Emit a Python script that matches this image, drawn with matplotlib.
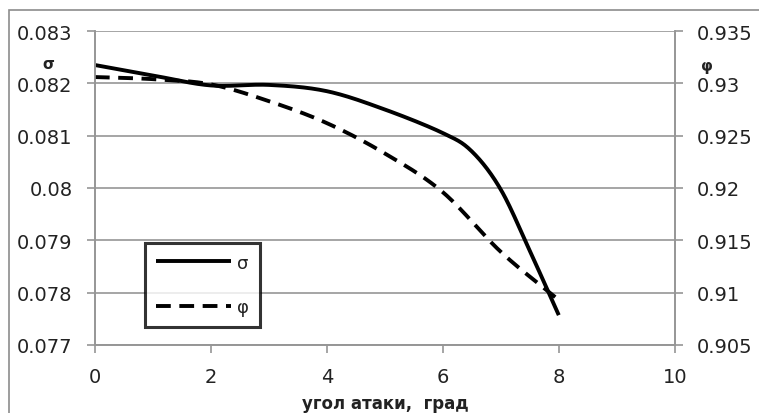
import numpy as np
import matplotlib
matplotlib.use('Agg')
import matplotlib.pyplot as plt
from matplotlib.patches import Rectangle
from matplotlib.ticker import FuncFormatter

# data
sigma_angle = [0, 1, 2, 3, 4, 5, 6, 6.5, 7, 7.5, 8]
sigma = [0.08235, 0.08215, 0.08196, 0.08197, 0.08185, 0.08150, 0.08105, 0.08070, 0.07997, 0.07880, 0.07757]
phi_angle = [0, 1, 2, 3, 4, 5, 6, 7, 8]
phi = [0.9306, 0.9304, 0.9299, 0.9283, 0.9262, 0.9233, 0.9196, 0.9139, 0.9093]

x_ticks = [0, 2, 4, 6, 8, 10]
sigma_ticks = [0.077, 0.078, 0.079, 0.08, 0.081, 0.082, 0.083]
phi_ticks = [0.905, 0.91, 0.915, 0.92, 0.925, 0.93, 0.935]


def smooth(x, y, n=30):
    # catmull-rom curve through the points, like excel's smoothed line
    x = np.asarray(x, float)
    y = np.asarray(y, float)
    px = np.concatenate([[2 * x[0] - x[1]], x, [2 * x[-1] - x[-2]]])
    py = np.concatenate([[2 * y[0] - y[1]], y, [2 * y[-1] - y[-2]]])
    t = np.linspace(0, 1, n, endpoint=False)
    xs, ys = [], []
    for i in range(1, len(px) - 2):
        for p, out in ((px, xs), (py, ys)):
            p0, p1, p2, p3 = p[i - 1], p[i], p[i + 1], p[i + 2]
            out.extend(0.5 * (2 * p1 + (-p0 + p2) * t
                              + (2 * p0 - 5 * p1 + 4 * p2 - p3) * t ** 2
                              + (-p0 + 3 * p1 - 3 * p2 + p3) * t ** 3))
    xs.append(x[-1])
    ys.append(y[-1])
    return np.array(xs), np.array(ys)


plt.rcParams['font.family'] = 'DejaVu Sans'
fig = plt.figure(figsize=(7.59, 4.14), dpi=100)
ax = fig.add_axes([0.125, 0.1643, 0.764, 0.7584])
ax2 = ax.twinx()

# outer chart frame
fig.patches.append(Rectangle((9 / 759, -0.1), 2, 1 - 11 / 414 + 0.1, transform=fig.transFigure,
                             fill=False, edgecolor='#8c8c8c', linewidth=1.2))

sx, sy = smooth(sigma_angle, sigma)
px, py = smooth(phi_angle, phi)
l1, = ax.plot(sx, sy, color='black', linewidth=2.8, label='σ', solid_capstyle='butt')
l2, = ax2.plot(px, py, color='black', linewidth=2.8, dashes=(3.8, 2.2), label='φ')

ax.set_xlim(0, 10)
ax.set_ylim(0.077, 0.083)
ax2.set_ylim(0.905, 0.935)
ax.set_xticks(x_ticks)
ax.set_yticks(sigma_ticks)
ax2.set_yticks(phi_ticks)
fmt = FuncFormatter(lambda v, pos: '%g' % v)
ax.yaxis.set_major_formatter(fmt)
ax2.yaxis.set_major_formatter(fmt)

ax.grid(axis='y', color='#969696', linewidth=1.2)
ax.set_axisbelow(True)
for a in (ax, ax2):
    a.spines['top'].set_visible(False)
    for s in ('left', 'right', 'bottom'):
        a.spines[s].set_color('#969696')
        a.spines[s].set_linewidth(1.2)
    a.tick_params(colors='#969696', labelcolor='#222222', labelsize=14,
                  length=6, width=1.2, pad=10)
ax.tick_params(axis='x', pad=10)

ax.set_ylabel('σ', rotation=0, fontsize=11, fontweight='bold', color='#222222')
ax.yaxis.set_label_coords(-0.08, 0.873)
ax2.set_ylabel('φ', rotation=0, fontsize=11, fontweight='bold', color='#222222')
ax2.yaxis.set_label_coords(1.056, 0.915)
ax.set_xlabel('угол атаки,  град', fontsize=12, fontweight='bold', color='#222222')
ax.xaxis.set_label_coords(0.5, -0.155)

leg = ax2.legend([l1, l2], ['σ', 'φ'], loc='upper left', bbox_to_anchor=(0.086, 0.325),
                 frameon=True, fancybox=False, edgecolor='black', fontsize=13,
                 handlelength=4.2, handletextpad=0.3, labelspacing=1.45,
                 borderpad=0.6, borderaxespad=0)
leg.get_frame().set_linewidth(2.2)
for t in leg.get_texts():
    t.set_color('#222222')

plt.savefig('out.png', dpi=100)
